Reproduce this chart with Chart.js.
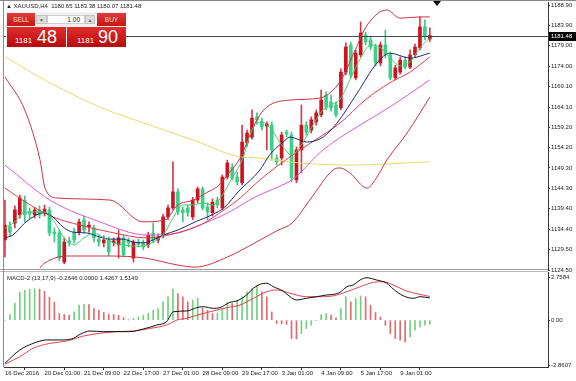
<!DOCTYPE html>
<html><head><meta charset="utf-8">
<script src="https://cdn.jsdelivr.net/npm/chart.js@4.4.1/dist/chart.umd.min.js"></script>
<style>
body{margin:0;background:#fff;width:576px;height:381px;overflow:hidden;position:relative;font-family:"Liberation Sans",Arial,sans-serif;}
canvas{position:absolute;left:0;}
#c1{top:0;z-index:1}
#c2{top:268px;z-index:2}
.ov{position:absolute;z-index:5;white-space:nowrap;}
#title{left:6px;top:3px;font-size:6px;color:#222;line-height:7px;}
#widget{left:6px;top:12px;width:120px;height:36px;background:#f0f0f0;}
.btn{position:absolute;top:1px;height:13px;background:linear-gradient(#e23a3a,#c41818);color:#ffd6d6;font-size:6.5px;line-height:13px;text-align:center;}
.small{position:absolute;top:3px;height:9px;background:#dedede;border:1px solid #c4c4c4;box-sizing:border-box;color:#666;font-size:5px;line-height:8px;text-align:center;}
#lot{position:absolute;left:41px;top:3px;width:38px;height:9px;background:#fff;border:1px solid #d0d0d0;box-sizing:border-box;font-size:6.5px;line-height:8px;text-align:right;padding-right:4px;color:#222;}
.px{position:absolute;top:15px;height:20px;width:59px;background:linear-gradient(#e42c2c,#b40c0c);color:#fff;}
.px .s{position:absolute;left:8px;top:9px;font-size:8px;line-height:9px;}
.px .b{position:absolute;left:30px;top:1px;font-size:18px;line-height:19px;}
#macdlbl{left:7px;top:275px;font-size:6px;color:#222;line-height:7px;}
</style></head>
<body>
<canvas id="c1" width="576" height="276"></canvas>
<canvas id="c2" width="576" height="113"></canvas>
<div class="ov" id="title">&#9650; XAUUSD,H4&nbsp; 1180.65 1183.38 1180.07 1181.48</div>
<div class="ov" id="widget">
  <div class="btn" style="left:1px;width:28px;">SELL</div>
  <div class="small" style="left:30px;width:11px;">&#9660;</div>
  <div id="lot">1.00</div>
  <div class="small" style="left:79px;width:10px;">&#9650;</div>
  <div class="btn" style="left:91px;width:29px;">BUY</div>
  <div class="px" style="left:1px;"><span class="s">1181</span><span class="b">48</span></div>
  <div class="px" style="left:61px;"><span class="s" style="left:10px">1181</span><span class="b" style="left:31px">90</span></div>
</div>
<div class="ov" id="macdlbl">MACD-2 (13,17,9) -0.2646 0.0000 1.4267 1.5149</div>
<script>
// ---------------- DATA ----------------
const timeTickIdx = [0,8,16,24,32,40,48,56,64,72,80];
const timeLabels = ["16 Dec 2016","20 Dec 01:00","21 Dec 09:00","22 Dec 17:00","27 Dec 01:00","28 Dec 09:00","29 Dec 17:00","3 Jan 01:00","4 Jan 09:00","5 Jan 17:00","9 Jan 01:00"];
const priceTicks = [1188.90,1183.90,1179.00,1174.00,1169.10,1164.10,1159.20,1154.20,1149.30,1144.30,1139.40,1134.40,1129.50,1124.50];
const macdTicks = [2.7584, 0, -2.8607];
const macdTickLabels = ["2.7584","0.00","-2.8607"];
const bidPrice = 1181.48;

const openP  = [1131.8,1135.0,1135.9,1137.9,1141.5,1138.6,1137.9,1139.1,1138.4,1139.1,1133.7,1133.5,1126.4,1131.6,1133.7,1133.7,1136.7,1135.0,1134.7,1132.0,1131.1,1131.8,1131.1,1130.6,1132.3,1131.6,1127.4,1131.3,1131.1,1130.6,1133.5,1131.8,1133.0,1137.4,1139.6,1143.5,1139.1,1139.6,1137.4,1141.5,1144.2,1139.8,1138.4,1141.5,1139.6,1147.1,1149.5,1147.1,1145.7,1155.4,1156.8,1161.7,1160.5,1159.5,1159.7,1151.7,1151.7,1158.0,1157.3,1146.4,1153.7,1159.7,1158.5,1160.5,1162.2,1167.0,1165.3,1164.6,1163.9,1172.6,1179.2,1171.2,1176.8,1181.6,1180.4,1178.7,1174.8,1179.2,1176.8,1171.2,1172.6,1175.5,1173.8,1176.8,1178.5,1183.6,1180.65];
const highP  = [1141.5,1136.2,1140.1,1142.7,1142.5,1139.6,1139.8,1140.1,1140.3,1139.8,1134.7,1134.2,1132.3,1132.5,1134.7,1136.9,1137.6,1136.2,1135.4,1133.0,1132.8,1132.5,1132.3,1134.2,1133.0,1132.3,1131.8,1132.0,1131.8,1133.7,1135.9,1133.3,1138.1,1140.3,1150.8,1144.2,1139.8,1140.3,1142.2,1144.7,1144.7,1140.8,1141.8,1142.2,1147.6,1151.2,1150.3,1148.3,1159.7,1158.5,1163.4,1162.7,1161.4,1160.5,1160.5,1152.5,1158.0,1158.5,1158.0,1154.4,1164.6,1160.5,1161.7,1163.4,1168.2,1167.8,1167.0,1165.3,1173.4,1179.7,1179.9,1178.0,1184.8,1182.3,1181.1,1179.4,1179.9,1182.8,1177.5,1174.3,1176.3,1176.3,1178.0,1179.4,1186.0,1185.3,1183.38];
const lowP   = [1127.7,1132.8,1134.7,1137.1,1136.2,1137.1,1137.1,1137.1,1137.6,1132.8,1131.3,1126.7,1126.0,1130.3,1131.1,1133.0,1133.5,1133.7,1131.3,1130.3,1130.1,1127.9,1130.3,1127.4,1127.7,1130.1,1126.4,1130.1,1129.4,1129.9,1131.1,1131.1,1132.3,1136.7,1139.1,1137.9,1136.2,1137.6,1136.7,1140.8,1139.1,1136.7,1137.6,1139.6,1139.1,1146.6,1146.4,1145.2,1145.2,1154.6,1156.3,1160.0,1158.5,1153.7,1151.2,1150.0,1150.0,1156.8,1145.9,1145.7,1148.1,1157.3,1157.8,1159.7,1161.7,1163.4,1163.1,1161.7,1163.4,1171.9,1171.2,1170.7,1176.3,1179.2,1178.0,1174.1,1174.1,1176.0,1170.7,1170.7,1172.1,1173.4,1173.4,1176.3,1178.0,1180.4,1180.07];
const closeP = [1135.4,1133.7,1139.1,1142.0,1137.9,1138.1,1139.1,1137.9,1139.3,1133.5,1133.3,1127.4,1131.3,1131.1,1131.8,1136.2,1134.2,1135.4,1132.3,1131.3,1131.8,1128.9,1131.6,1132.3,1128.2,1131.1,1131.3,1130.8,1130.1,1133.0,1131.8,1132.5,1137.4,1139.6,1143.5,1138.6,1138.4,1138.4,1141.5,1144.2,1139.6,1138.6,1141.0,1140.3,1147.1,1150.5,1146.9,1145.9,1155.6,1157.8,1161.4,1161.0,1159.3,1160.0,1153.7,1150.8,1157.3,1157.6,1146.9,1153.7,1159.7,1158.0,1161.0,1162.7,1165.8,1164.1,1163.9,1162.2,1172.6,1178.7,1171.9,1177.2,1182.1,1179.9,1178.7,1174.8,1179.2,1176.8,1171.2,1173.6,1175.5,1173.8,1176.8,1178.7,1183.6,1181.1,1181.48];

// indicator lines: [bar index, value]
const yellowMA = [[0,1176.3],[9.1,1170.0],[19.2,1164.1],[29.4,1159.7],[38.5,1155.9],[47.6,1152.0],[51.6,1151.7],[59.7,1150.5],[69.8,1150.0],[86,1150.8]];
const upperBB = [[0,1171.4],[4,1163.4],[7.1,1151.2],[8.1,1144.4],[10.5,1142.0],[21.3,1141.5],[27.9,1136.2],[32.4,1136.7],[35,1140.3],[38.1,1141.5],[41.1,1143.5],[42.9,1144.7],[45.5,1148.3],[47.6,1151.7],[49.6,1157.3],[51,1161.0],[53,1164.1],[57.7,1165.8],[63.8,1166.3],[66.4,1168.2],[68.4,1171.4],[70.9,1178.0],[73.3,1184.0],[77.3,1187.7],[80,1185.7],[84,1186.0],[86,1186.0]];
const lowerBB = [[0,1114.8],[5.1,1119.6],[7.1,1125.0],[9.1,1126.9],[12.6,1127.9],[21.3,1127.9],[28.3,1127.4],[35,1125.7],[38.5,1125.2],[45.1,1127.7],[50.6,1131.1],[55.3,1134.2],[58.1,1135.9],[61.7,1141.5],[66.4,1148.8],[67.8,1149.3],[69.8,1148.1],[73.3,1144.4],[75.3,1147.1],[77.3,1151.2],[81.4,1157.8],[86,1166.5]];
const blueMA = [[0,1132.3],[1.6,1133.0],[4,1135.9],[5.7,1137.4],[7.7,1138.4],[9.7,1137.4],[11.7,1135.0],[13.8,1133.7],[16.6,1133.5],[19.2,1132.5],[21.3,1132.0],[23.9,1132.0],[25.9,1131.3],[27.9,1131.1],[30,1131.8],[32,1133.0],[35,1134.2],[38.5,1136.2],[41.9,1137.9],[44.5,1139.8],[47.2,1143.5],[51.6,1148.8],[53.6,1152.5],[56.3,1155.6],[57.7,1156.8],[61.1,1155.6],[64.4,1156.8],[67.2,1160.2],[71.3,1167.5],[75.3,1174.8],[77.9,1177.2],[82,1176.0],[86,1177.2]];
const redMA = [[0,1144.4],[5.1,1140.3],[9.7,1137.4],[15.2,1135.4],[21.3,1133.7],[28.7,1132.3],[32.4,1132.8],[35.4,1133.7],[39.5,1135.4],[43.5,1138.4],[47.6,1142.0],[51.6,1146.4],[57.7,1152.0],[62.8,1156.1],[67.8,1160.2],[72.9,1165.8],[77.9,1170.0],[82,1172.6],[86,1176.3]];
const magentaMA = [[0,1150.0],[9.1,1141.5],[19.2,1136.2],[28.7,1133.0],[35,1133.5],[38.5,1135.0],[45.1,1138.4],[50.6,1142.2],[55.3,1144.7],[58.1,1146.4],[64.4,1153.7],[71.3,1159.3],[77.9,1164.1],[86,1170.7]];
const greenMA = [[0,1134.7],[2,1136.2],[4,1138.6],[6,1138.6],[8,1138.6],[10,1136.2],[12,1132.3],[14,1130.6],[16,1132.3],[18,1133.5],[20,1132.3],[22,1131.1],[24,1130.6],[26,1130.3],[28,1130.3],[30,1131.3],[32,1133.0],[34,1137.1],[36,1140.3],[38,1140.3],[40,1140.8],[42,1140.3],[44,1142.7],[46,1146.9],[48,1151.2],[50,1158.5],[52,1160.5],[54,1158.5],[56,1154.9],[58,1152.5],[60,1154.9],[62,1159.0],[64,1162.9],[66,1164.6],[68,1166.3],[70,1171.2],[72,1176.0],[74,1179.2],[76,1178.5],[78,1176.0],[80,1174.1],[82,1175.1],[84,1178.5],[86,1180.9]];

const macdHist = [0,0.36,1.07,1.79,1.92,1.98,2.02,1.98,1.85,1.47,1.15,0.43,0.36,0.32,0.53,0.96,1.00,1.00,0.75,0.64,0.49,0.38,0.36,0.32,0.15,0.02,0.11,0.21,0.32,0.43,0.64,0.75,1.17,1.49,1.98,1.70,1.49,1.17,1.28,1.39,0.75,0.64,0.42,0.45,0.75,1.12,1.07,1.28,1.49,1.81,2.02,2.19,1.81,1.49,0.53,-0.21,-0.22,-0.27,-1.17,-1.19,-0.85,-0.53,-0.32,-0.02,0.36,0.43,0.32,0.15,0.75,1.49,1.17,1.39,1.55,1.49,0.96,0.49,0.21,-0.32,-0.85,-1.17,-1.28,-1.39,-1.07,-0.64,-0.43,-0.32,-0.2646];
const macdMain = [[0,-2.75],[3,-1.90],[5.7,-1.48],[8.4,-1.26],[11.1,-1.26],[13.5,-1.20],[15.2,-0.90],[17.2,-0.69],[19.9,-0.73],[22.6,-0.73],[25.3,-0.73],[28,-0.56],[30.7,-0.31],[32.7,-0.10],[34.1,0.54],[36.8,0.59],[38.8,0.80],[40.1,0.86],[42.2,0.76],[43.5,0.80],[45.5,1.14],[46.9,1.23],[48.9,1.61],[50.3,2.04],[51.6,2.29],[53,2.36],[54.3,2.14],[56.3,1.86],[57.7,1.50],[59,1.29],[61,1.40],[63.1,1.50],[65.1,1.61],[66.5,1.65],[67.8,1.78],[69.2,2.14],[70.5,2.25],[71.9,2.57],[73.2,2.71],[75.2,2.57],[77.3,2.36],[78.6,1.99],[80.6,1.56],[82.7,1.40],[84,1.50],[86,1.4267]];
const macdSignal = [[0,-2.80],[3,-2.33],[5.7,-1.79],[9.1,-1.48],[12.5,-1.33],[15.9,-1.01],[19.2,-0.84],[22.6,-0.73],[26,-0.69],[29.4,-0.52],[32.7,-0.31],[34.8,0.01],[36.8,0.12],[39.5,0.38],[42.2,0.59],[44.9,0.80],[47.6,0.97],[50.3,1.40],[53,1.82],[55,1.93],[57.7,1.72],[61,1.50],[63.8,1.50],[66.5,1.56],[69.2,1.82],[71.9,2.14],[74.6,2.42],[76.6,2.46],[78.6,2.25],[81.3,1.86],[84,1.65],[86,1.5149]];

// ---------------- STYLE / LAYOUT ----------------
const RED='#d0121e', GREEN='#3ccf8a', WICK_R='#d63a48', WICK_G='#3cc585';
const FONT={family:'Liberation Sans', size:6};
const XMIN=-0.2, XMAX=109.92;
const idx = openP.map((_,i)=>i);
const isUp = i => closeP[i] >= openP[i];
const pts = a => a.map(p=>({x:p[0], y:p[1]}));
function line(data,color,order,axis){return {type:'line',data:pts(data),borderColor:color,borderWidth:1,pointRadius:0,cubicInterpolationMode:'monotone',order:order,yAxisID:axis||'y'};}

const base = {animation:false,responsive:false,devicePixelRatio:1,events:[],
  plugins:{legend:{display:false},tooltip:{enabled:false}}};

const frameA = {id:'frameA',
  afterDatasetsDraw(c){const ctx=c.ctx, y=Math.round(c.scales.y.getPixelForValue(bidPrice))+0.5;
    ctx.save();ctx.strokeStyle='#4a4a4a';ctx.lineWidth=1;ctx.beginPath();ctx.moveTo(4,y);ctx.lineTo(548,y);ctx.stroke();ctx.restore();},
  afterDraw(c){const ctx=c.ctx, y=Math.round(c.scales.y.getPixelForValue(bidPrice));
    ctx.save();
    ctx.fillStyle='#000';ctx.fillRect(549,y-4,27,9);
    ctx.fillStyle='#fff';ctx.font='6px "Liberation Sans"';ctx.textBaseline='middle';ctx.fillText(bidPrice.toFixed(2),551,y+0.5);
    ctx.strokeStyle='#8a8a8a';ctx.beginPath();ctx.moveTo(0,0.5);ctx.lineTo(576,0.5);ctx.moveTo(3.5,0);ctx.lineTo(3.5,276);ctx.stroke();
    ctx.fillStyle='#000';ctx.beginPath();ctx.moveTo(433,1);ctx.lineTo(441,1);ctx.lineTo(437,6);ctx.closePath();ctx.fill();
    ctx.restore();}
};
const frameB = {id:'frameB',
  beforeDraw(c){const ctx=c.ctx;ctx.save();ctx.fillStyle='#fff';ctx.fillRect(0,0,548,113);ctx.fillRect(548,6,28,107);
    ctx.fillStyle='#9a9a9a';ctx.fillRect(0,1,548,1);ctx.fillStyle='#b8b8b8';ctx.fillRect(0,3,548,1);
    ctx.strokeStyle='#8a8a8a';ctx.beginPath();ctx.moveTo(3.5,0);ctx.lineTo(3.5,99);ctx.stroke();ctx.restore();}
};

new Chart(document.getElementById('c1'),{
  type:'bar',
  data:{datasets:[
    line(greenMA,'#3fcf6f',1),
    line(blueMA,'#1e2a78',2),
    line(redMA,'#e33c48',3),
    line(magentaMA,'#dc5ad0',4),
    line(upperBB,'#c93444',5),
    line(lowerBB,'#c93444',6),
    line(yellowMA,'#e4dc6c',7),
    {type:'bar',grouped:false,order:10,barThickness:3,minBarLength:1,
     data:idx.map(i=>({x:i,y:[openP[i],closeP[i]]})),
     backgroundColor:idx.map(i=>isUp(i)?RED:GREEN)},
    {type:'bar',grouped:false,order:11,barThickness:1,
     data:idx.map(i=>({x:i,y:[lowP[i],highP[i]]})),
     backgroundColor:idx.map(i=>isUp(i)?WICK_R:WICK_G)}
  ]},
  options:Object.assign({},base,{
    layout:{padding:{left:4,top:2,right:0,bottom:6}},
    scales:{
      x:{type:'linear',min:XMIN,max:XMAX,offset:false,display:false},
      y:{position:'right',min:1124.50,max:1189.63,
         afterBuildTicks:s=>{s.ticks=priceTicks.map(v=>({value:v}));},
         afterFit:s=>{s.width=28;s.paddingTop=0;s.paddingBottom=0;},
         ticks:{callback:v=>v.toFixed(2),font:FONT,color:'#222',padding:1,autoSkip:false},
         grid:{drawOnChartArea:false,tickLength:2,color:'#333'},
         border:{display:true,color:'#333',width:1}}
    }
  }),
  plugins:[frameA]
});

new Chart(document.getElementById('c2'),{
  type:'bar',
  data:{datasets:[
    line(macdMain,'#111111',1),
    line(macdSignal,'#e2444c',2),
    {type:'bar',grouped:false,order:5,barThickness:1,
     data:idx.map(i=>({x:i,y:macdHist[i]})),
     backgroundColor:idx.map(i=>(i===0||macdHist[i]>macdHist[i-1])?'#72d07e':'#e06a6e')}
  ]},
  options:Object.assign({},base,{
    layout:{padding:{left:4,top:4,right:0,bottom:0}},
    scales:{
      x:{type:'linear',min:XMIN,max:XMAX,offset:false,position:'bottom',
         afterBuildTicks:s=>{s.ticks=timeTickIdx.map(v=>({value:v}));},
         afterFit:s=>{s.height=14;s.paddingLeft=0;s.paddingRight=0;},
         ticks:{callback:v=>timeLabels[timeTickIdx.indexOf(v)],font:FONT,color:'#222',align:'start',maxRotation:0,autoSkip:false,padding:0},
         grid:{drawOnChartArea:false,tickLength:3,color:'#333'},
         border:{display:true,color:'#333',width:1}},
      y:{position:'right',min:-2.988,max:3.078,
         afterBuildTicks:s=>{s.ticks=macdTicks.map(v=>({value:v}));},
         afterFit:s=>{s.width=28;s.paddingTop=0;s.paddingBottom=0;},
         ticks:{callback:v=>macdTickLabels[macdTicks.indexOf(v)],font:FONT,color:'#222',padding:1,autoSkip:false},
         grid:{drawOnChartArea:false,tickLength:2,color:'#333'},
         border:{display:true,color:'#333',width:1}}
    }
  }),
  plugins:[frameB]
});
</script>
</body></html>
